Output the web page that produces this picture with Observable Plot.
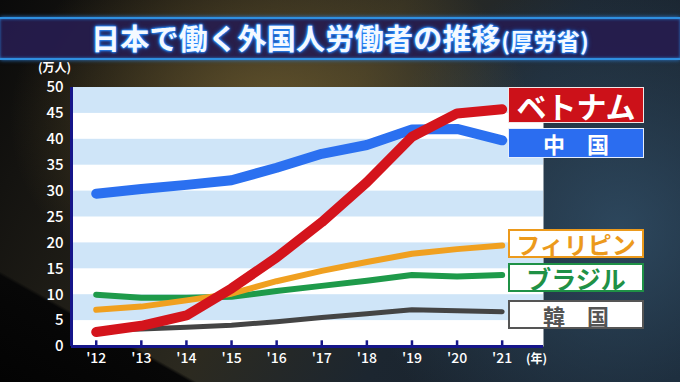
<!DOCTYPE html>
<html><head><meta charset="utf-8">
<script src="https://cdn.jsdelivr.net/npm/d3@7"></script>
<script src="https://cdn.jsdelivr.net/npm/@observablehq/plot@0.6"></script>
<style>
body{margin:0;width:680px;height:382px;overflow:hidden;font-family:"Noto Sans CJK JP",sans-serif;background:#000;}
#wrap{position:relative;width:680px;height:382px;overflow:hidden;
 background:
  linear-gradient(to top right, #030303 0%, #070707 14%, rgba(0,0,0,0) 14.5%),
  radial-gradient(ellipse 260px 200px at 270px 120px, rgba(120,100,50,0.75), rgba(0,0,0,0) 100%),
  radial-gradient(ellipse 260px 260px at 620px 230px, rgba(50,80,105,0.8), rgba(0,0,0,0) 100%),
  linear-gradient(120deg, #0a0a0a 0%, #1e1c16 25%, #2c2a20 45%, #1c2630 65%, #15202c 100%);}
#banner{position:absolute;left:0;top:17px;width:680px;height:39px;background:rgba(38,28,78,0.92);
 border-top:2px solid #2f8fe0;border-bottom:2px solid #2f8fe0;box-shadow:0 0 4px #2a7ad0, inset 0 0 3px #2a7ad0;}
#title{position:absolute;left:0;top:18px;width:680px;text-align:center;line-height:38px;color:#f4f9ff;
 font-weight:700;font-size:29px;letter-spacing:0.3px;
 text-shadow:0 0 2px #2a8cff,0 0 2px #2a8cff,0 0 3px #2a8cff,0 0 5px #1f6fe0;}
#title .src{font-size:23px;}
#chart{position:absolute;left:0;top:0;}
#unit{position:absolute;left:38px;top:60px;color:#fff;font-size:12px;font-weight:700;line-height:13px;}
#yr{position:absolute;left:526px;top:351px;color:#fff;font-size:12px;font-weight:700;line-height:14px;}
.lab{position:absolute;left:508px;width:136px;box-sizing:border-box;text-align:center;font-weight:700;white-space:pre;}
.l0{top:87px;height:36px;line-height:34px;background:#cc1119;color:#fff;border:1.5px solid #f2e6e6;font-size:30px;}
.l1{top:128px;height:30px;line-height:28px;background:#2b6df0;color:#fff;border:1.5px solid #e6eefc;font-size:22px;}
.l2{top:229px;height:29px;line-height:26px;background:#fff;color:#ec9a1c;border:2px solid #ec9a1c;font-size:24px;}
.l3{top:263px;height:29px;line-height:26px;background:#fff;color:#1f9146;border:2px solid #1f9146;font-size:25px;}
.l4{top:300px;height:29px;line-height:26px;background:#fff;color:#555;border:2px solid #555;font-size:22px;}
</style></head><body>
<div id="wrap">
 <div id="banner"></div>
 <div id="title">日本で働く外国人労働者の推移<span class="src">(厚労省)</span></div>
 <div id="chart"></div>
 <div id="unit">(万人)</div>
 <div id="yr">(年)</div>
 <div id="legend"></div>
</div>
<script>
// data (万人)
const years = [12, 13, 14, 15, 16, 17, 18, 19, 20, 21];
const vietnam = [2.8, 4.0, 6.0, 11.2, 17.2, 24.0, 31.7, 40.5, 45.0, 45.8];
const china = [29.5, 30.4, 31.2, 32.1, 34.5, 37.2, 38.9, 41.9, 42.0, 39.8];
const philippines = [7.1, 7.7, 8.9, 10.2, 12.6, 14.6, 16.3, 17.9, 18.8, 19.5];
const brazil = [10.0, 9.4, 9.4, 9.6, 10.7, 11.7, 12.7, 13.8, 13.5, 13.8];
const korea = [3.2, 3.4, 3.7, 4.1, 4.8, 5.6, 6.3, 7.1, 6.9, 6.7];
const seriesNames = ["ベトナム", "中　国", "フィリピン", "ブラジル", "韓　国"];
const yTicks = [0, 5, 10, 15, 20, 25, 30, 35, 40, 45, 50];
const bandStarts = [45, 35, 25, 15, 5];
const xDomain = [11.452, 21.916];

const rows = (vals) => years.map((y, i) => ({year: y, value: vals[i]}));
const colors = {vietnam: "#d4141c", china: "#2b70f0", philippines: "#f0a020", brazil: "#1e9a4a", korea: "#444444"};

const chart = Plot.plot({
  width: 680, height: 382,
  marginLeft: 71, marginRight: 137, marginTop: 87, marginBottom: 36,
  style: {background: "transparent", color: "#fff", fontFamily: "'Noto Sans CJK JP', sans-serif"},
  x: {domain: xDomain, axis: null, label: null},
  y: {domain: [0, 50], axis: null, label: null},
  marks: [
    Plot.frame({fill: "#ffffff", stroke: null}),
    Plot.rect(bandStarts, {y1: d => d, y2: d => d + 5, fill: "#cfe5f8"}),
    Plot.ruleX(years, {x: d => d, y1: 0, y2: 1.1, stroke: "#16168a", strokeWidth: 2.5}),
    Plot.line(rows(korea), {x: "year", y: "value", stroke: colors.korea, strokeWidth: 5, strokeLinejoin: "round"}),
    Plot.line(rows(brazil), {x: "year", y: "value", stroke: colors.brazil, strokeWidth: 6, strokeLinejoin: "round"}),
    Plot.line(rows(philippines), {x: "year", y: "value", stroke: colors.philippines, strokeWidth: 6, strokeLinejoin: "round"}),
    Plot.line(rows(china), {x: "year", y: "value", stroke: colors.china, strokeWidth: 10, strokeLinejoin: "round"}),
    Plot.line(rows(vietnam), {x: "year", y: "value", stroke: colors.vietnam, strokeWidth: 10, strokeLinejoin: "round"}),
    Plot.ruleX([xDomain[0]], {stroke: "#16168a", strokeWidth: 3}),
    Plot.ruleY([0], {stroke: "#16168a", strokeWidth: 3}),
    Plot.axisY(yTicks, {tickSize: 0, tickPadding: 8, fontSize: 15, fill: "#fff", fontWeight: 500, label: null}),
    Plot.axisX(years, {tickSize: 0, tickPadding: 7, fontSize: 14, fill: "#fff", tickFormat: d => "'" + d, fontWeight: 500, label: null})
  ]
});
document.getElementById("chart").appendChild(chart);

const legend = document.getElementById("legend");
seriesNames.forEach((n, i) => {
  const d = document.createElement("div");
  d.className = "lab l" + i;
  d.textContent = n;
  legend.appendChild(d);
});
</script>
</body></html>
